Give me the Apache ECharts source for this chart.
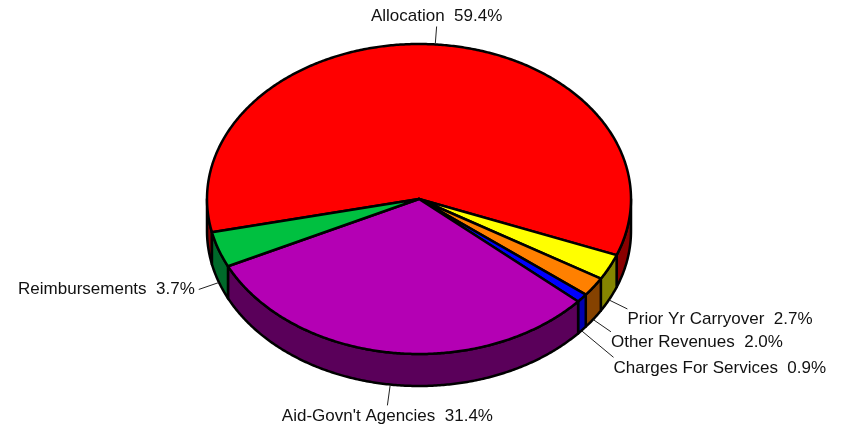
<!DOCTYPE html>
<html><head><meta charset="utf-8">
<script src="https://cdn.jsdelivr.net/npm/echarts@6/dist/echarts.min.js"></script>
<style>html,body{margin:0;padding:0;background:#fff}#c{width:851px;height:431px}</style>
</head><body><div id="c"></div>
<script>
// Data (clockwise order on screen, starting with Allocation)
const categories = ['Allocation', 'Prior Yr Carryover', 'Other Revenues', 'Charges For Services', "Aid-Govn't Agencies", 'Reimbursements'];
const values = [59.4, 2.7, 2.0, 0.9, 31.4, 3.7];

// Styles
const topColors = ['#ff0000', '#ffff00', '#ff8000', '#0000ff', '#b400b4', '#00c040'];
const sideColors = ['#8a0000', '#858500', '#854200', '#0000b0', '#5a005a', '#006a2a'];
const leaderLen = [17, 20, 21, 41, 20, 21];

const CX = 419, CY = 199, RX = 212, RY = 155, DEPTH = 32, START = 167.6;
const FONT = '17px "Liberation Sans", Arial, sans-serif';

const total = values.reduce((a, b) => a + b, 0);
const spans = values.map(v => v / total * 360);
const starts = [];
(function () { let acc = START; spans.forEach(s => { starts.push(acc); acc += s; }); })();

function pt(deg, dy) {
  const r = deg * Math.PI / 180;
  return [CX + RX * Math.cos(r), CY + RY * Math.sin(r) + (dy || 0)];
}
function arc(a0, a1, dy) {
  const n = Math.max(2, Math.ceil(Math.abs(a1 - a0) / 0.5));
  const pts = [];
  for (let i = 0; i <= n; i++) pts.push(pt(a0 + (a1 - a0) * i / n, dy));
  return pts;
}

function renderSide(params) {
  const i = params.dataIndex;
  const a0 = starts[i], a1 = a0 + spans[i];
  const children = [];
  [[0, 180], [360, 540]].forEach(([f0, f1]) => {
    const s = Math.max(a0, f0), e = Math.min(a1, f1);
    if (e > s) {
      const top = arc(s, e, 0);
      const bot = arc(e, s, DEPTH);
      children.push({
        type: 'polygon',
        shape: { points: top.concat(bot) },
        style: { fill: sideColors[i], stroke: '#000', lineWidth: 2.5, lineJoin: 'round' }
      });
    }
  });
  return { type: 'group', children };
}

function renderTop(params) {
  const i = params.dataIndex;
  const a0 = starts[i], a1 = a0 + spans[i];
  const children = [];
  children.push({
    type: 'polygon',
    shape: { points: [[CX, CY]].concat(arc(a0, a1, 0)) },
    style: { fill: topColors[i], stroke: '#000', lineWidth: 2.5, lineJoin: 'round' }
  });
  const mid = a0 + spans[i] / 2;
  const r = mid * Math.PI / 180;
  const dx = Math.cos(r), dy = Math.sin(r);
  const front = dy > 0;
  const s = pt(mid, front ? DEPTH + 1 : -1);
  const L = leaderLen[i];
  const e = [s[0] + dx * L, s[1] + dy * L];
  children.push({
    type: 'line',
    shape: { x1: s[0], y1: s[1], x2: e[0], y2: e[1] },
    style: { stroke: '#222', lineWidth: 1 }
  });
  let tx = e[0], ty = e[1], align, valign;
  if (Math.abs(dy) > Math.abs(dx) * 2) {
    align = 'center';
    if (dy < 0) { valign = 'bottom'; ty -= 2; } else { valign = 'top'; ty += 2; }
  } else if (dx < 0) {
    align = 'right'; valign = 'middle'; tx -= 4;
  } else {
    align = 'left'; valign = 'top'; ty += 2;
  }
  children.push({
    type: 'text',
    style: {
      text: categories[i] + '  ' + values[i].toFixed(1) + '%',
      x: tx, y: ty, font: FONT, fill: '#111', align: align, verticalAlign: valign
    }
  });
  return { type: 'group', children };
}

const seriesData = values.map((v, i) => ({ name: categories[i], value: v }));
const chart = echarts.init(document.getElementById('c'), null, { renderer: 'canvas' });
chart.setOption({
  backgroundColor: '#ffffff',
  animation: false,
  series: [
    { type: 'custom', coordinateSystem: 'none', silent: true, z: 1, renderItem: renderSide, data: seriesData },
    { type: 'custom', coordinateSystem: 'none', silent: true, z: 2, renderItem: renderTop, data: seriesData }
  ]
});
</script>
</body></html>
